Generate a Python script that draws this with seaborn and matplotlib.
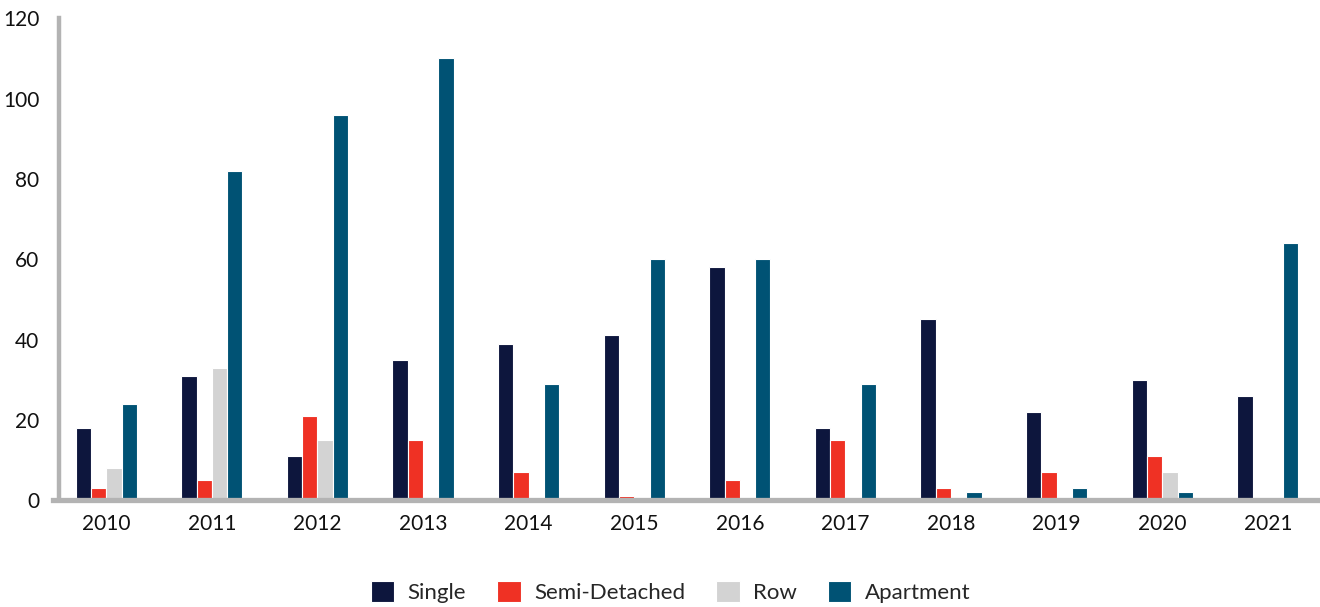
import pandas as pd
import numpy as np
import matplotlib.pyplot as plt
import seaborn as sns

years = ['2010', '2011', '2012', '2013', '2014', '2015', '2016', '2017', '2018', '2019', '2020', '2021']
single = [18, 31, 11, 35, 39, 41, 58, 18, 45, 22, 30, 26]
semi_detached = [3, 5, 21, 15, 7, 1, 5, 15, 3, 7, 11, 0]
row = [8, 33, 15, 0, 0, 0, 0, 0, 0, 0, 7, 0]
apartment = [24, 82, 96, 110, 29, 60, 60, 29, 2, 3, 2, 64]

types = ['Single', 'Semi-Detached', 'Row', 'Apartment']
colors = ['#0d163d', '#ef3124', '#d3d3d3', '#005274']

df = pd.DataFrame({'year': years, 'Single': single, 'Semi-Detached': semi_detached,
                   'Row': row, 'Apartment': apartment})
long = df.melt(id_vars='year', var_name='type', value_name='count')

sns.set_style('white')
plt.rcParams['font.family'] = ['Lato', 'DejaVu Sans']

fig = plt.figure(figsize=(13.2, 6.07), dpi=100)
ax = fig.add_axes([0.0405, 0.176, 0.96, 0.794])

sns.barplot(data=long, x='year', y='count', hue='type', hue_order=types,
            palette=colors, width=0.58, edgecolor='white', linewidth=0.8,
            saturation=1, ax=ax)

ax.set_ylim(0, 120)
ax.set_yticks(range(0, 121, 20))
ax.set_xlim(-0.5, 11.5)
ax.set_xlabel('')
ax.set_ylabel('')
ax.tick_params(axis='both', length=0, labelsize=15, colors='#111111')
ax.tick_params(axis='x', pad=10)
ax.tick_params(axis='y', pad=14)

for s in ['top', 'right']:
    ax.spines[s].set_visible(False)
ax.spines['left'].set_color('#b3b3b3')
ax.spines['left'].set_linewidth(3.2)
ax.spines['bottom'].set_color('#b3b3b3')
ax.spines['bottom'].set_linewidth(3.8)
ax.spines['left'].set_position(('data', -0.45))

handles, labels = ax.get_legend_handles_labels()
ax.legend_.remove()
fig.legend(handles, labels, loc='lower center', bbox_to_anchor=(0.508, -0.026), ncol=4,
           frameon=False, fontsize=16, handlelength=1.05, handleheight=1.1,
           columnspacing=1.4, handletextpad=0.6)

fig.savefig('out.png', dpi=100)
